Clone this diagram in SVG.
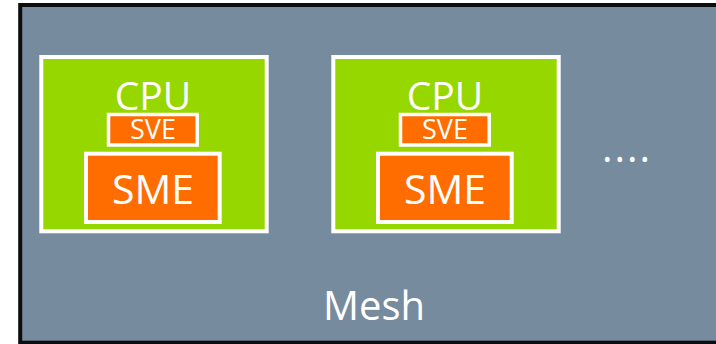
<svg xmlns="http://www.w3.org/2000/svg" width="716" height="344" viewBox="0 0 716 344">
  <style>
    .label { font-family: "Open Sans", "Liberation Sans", sans-serif; fill: #ffffff; text-anchor: middle; }
    .cpu { fill: #97d700; stroke: #ffffff; stroke-width: 4; }
    .unit { fill: #ff6d00; stroke: #ffffff; }
  </style>
  <rect width="716" height="344" fill="#ffffff"/>
  <!-- mesh frame, open on the right -->
  <g id="mesh">
    <rect x="20.2" y="5" width="720" height="337.7" fill="#778b9f" stroke="#0d0d0d" stroke-width="4"/>
    <text class="label" x="374" y="320" font-size="40">Mesh</text>
  </g>
  <g id="cpu1">
    <rect class="cpu" x="41.3" y="57" width="225.4" height="174.3"/>
    <text class="label" x="153" y="110" font-size="39">CPU</text>
    <rect class="unit" x="108.5" y="114.5" width="88.7" height="30.5" stroke-width="3.5"/>
    <text class="label" x="153" y="139.3" font-size="27">SVE</text>
    <rect class="unit" x="86" y="153.7" width="133.7" height="68.3" stroke-width="4"/>
    <text class="label" x="153" y="204" font-size="41">SME</text>
  </g>
  <g id="cpu2" transform="translate(292,0)">
    <rect class="cpu" x="41.3" y="57" width="225.4" height="174.3"/>
    <text class="label" x="153" y="110" font-size="39">CPU</text>
    <rect class="unit" x="108.5" y="114.5" width="88.7" height="30.5" stroke-width="3.5"/>
    <text class="label" x="153" y="139.3" font-size="27">SVE</text>
    <rect class="unit" x="86" y="153.7" width="133.7" height="68.3" stroke-width="4"/>
    <text class="label" x="153" y="204" font-size="41">SME</text>
  </g>
  <g id="more">
    <text class="label" x="627" y="162" font-size="40" letter-spacing="2">....</text>
  </g>
</svg>
